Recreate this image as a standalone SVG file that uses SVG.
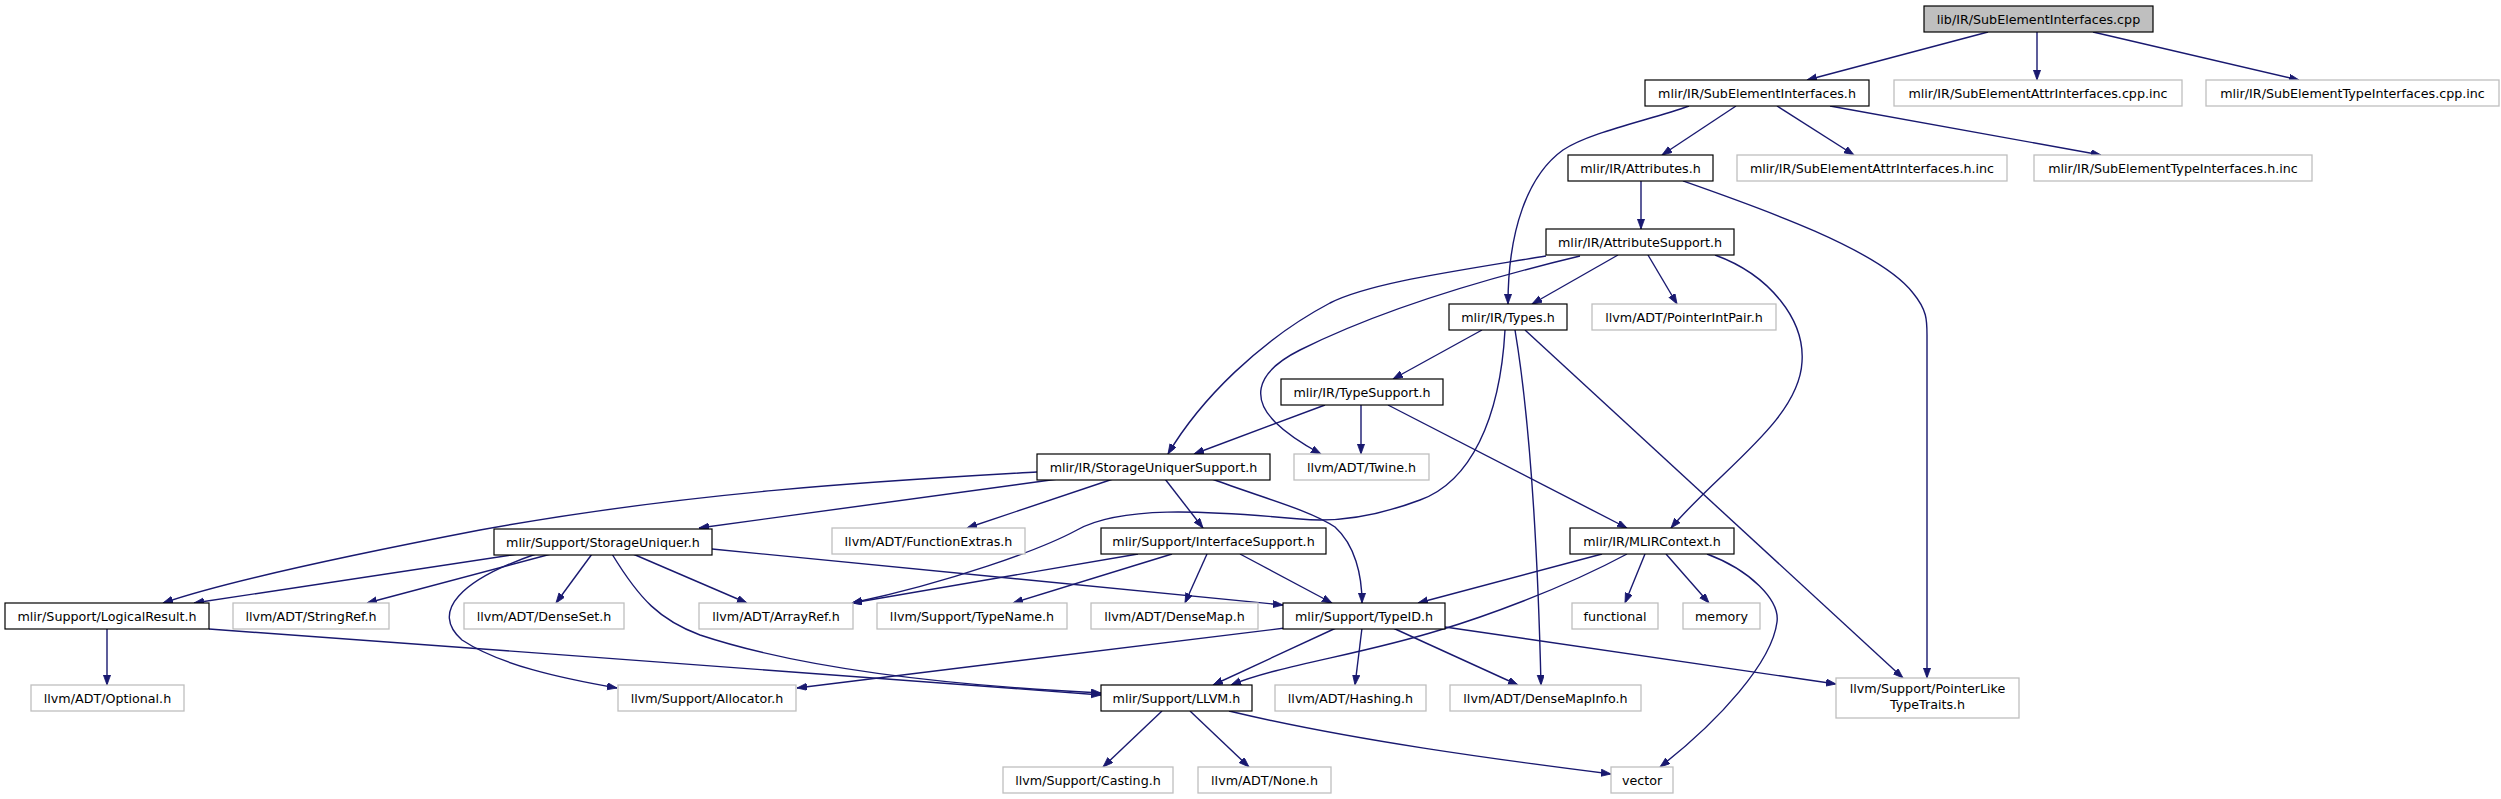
<svg xmlns="http://www.w3.org/2000/svg" width="2501" height="799" viewBox="0 0 2501 799">
<style>
.n rect{fill:#fff;stroke:#000;stroke-width:1.2}
.g rect{fill:#fff;stroke:#bfbfbf;stroke-width:1.3}
.top rect{fill:#bfbfbf;stroke:#000;stroke-width:1.2}
text{font-family:"DejaVu Sans","Liberation Sans",sans-serif;font-size:12.7px;fill:#000;text-anchor:middle}
#edges path{fill:none;stroke:#191970;stroke-width:1.4;marker-end:url(#ah)}
</style>
<defs>
<marker id="ah" markerUnits="userSpaceOnUse" markerWidth="11" markerHeight="8" refX="10" refY="3.6" orient="auto">
<path d="M0,0 L10,3.6 L0,7.2 z" fill="#191970" stroke="#191970" stroke-width="0.8"/>
</marker>
</defs>
<rect width="2501" height="799" fill="#fff"/>
<g id="edges">
<path d="M1988,32 L1807,80"/>
<path d="M2037,32 L2037,80"/>
<path d="M2093,32 L2299,80"/>
<path d="M1736,106 L1662,155"/>
<path d="M1777,106 L1854,155"/>
<path d="M1830,106 L2101,155"/>
<path d="M1689,106 C1650,120 1590,132 1563,150 C1528,175 1508,230 1508,304"/>
<path d="M1641,181 L1641,229"/>
<path d="M1683,181 C1760,208 1880,250 1913,293 C1927,310 1927,320 1927,335 L1927,678"/>
<path d="M1618,255 L1532,304"/>
<path d="M1648,255 L1677,304"/>
<path d="M1715,255 C1770,275 1805,320 1802,362 C1799,420 1720,470 1671,528"/>
<path d="M1546,256 C1450,272 1370,283 1330,303 C1260,340 1200,400 1168,454"/>
<path d="M1580,256 C1480,280 1380,310 1300,350 C1250,375 1255,402 1275,422 C1290,437 1308,447 1321,454"/>
<path d="M1482,330 L1393,379"/>
<path d="M1505,330 C1500,420 1470,482 1420,500 C1380,515 1340,523 1300,519 C1200,510 1120,506 1077,530 C1040,550 950,582 852,603"/>
<path d="M1515,330 C1530,420 1538,560 1541,685"/>
<path d="M1525,330 L1903,678"/>
<path d="M1325,405 L1194,454"/>
<path d="M1361,405 L1361,454"/>
<path d="M1388,405 L1627,528"/>
<path d="M1037,472 C900,480 700,490 480,530 C350,555 230,580 163,603"/>
<path d="M1058,479 L699,528"/>
<path d="M1113,479 L967,528"/>
<path d="M1165,479 L1203,528"/>
<path d="M1212,479 C1260,497 1310,510 1335,527 C1355,545 1362,575 1362,603"/>
<path d="M518,554 L194,603"/>
<path d="M551,554 L367,603"/>
<path d="M592,554 L556,603"/>
<path d="M633,554 L747,603"/>
<path d="M712,549 L1283,605"/>
<path d="M536,554 C460,580 430,612 462,640 C500,665 560,678 617,688"/>
<path d="M612,554 C640,600 660,620 700,635 C820,675 1000,688 1101,693"/>
<path d="M1138,554 L852,603"/>
<path d="M1172,554 L1013,603"/>
<path d="M1207,554 L1185,603"/>
<path d="M1240,554 L1332,603"/>
<path d="M1602,554 L1418,603"/>
<path d="M1645,554 L1625,603"/>
<path d="M1666,554 L1709,603"/>
<path d="M1627,554 C1560,590 1480,618 1440,630 C1360,655 1280,665 1231,685"/>
<path d="M1707,554 C1750,570 1780,600 1777,622 C1772,662 1720,720 1660,767"/>
<path d="M107,629 L107,685"/>
<path d="M209,629 C500,650 900,680 1101,695"/>
<path d="M1285,628 L797,688"/>
<path d="M1336,628 L1213,685"/>
<path d="M1362,628 L1355,685"/>
<path d="M1393,628 L1518,685"/>
<path d="M1445,627 L1836,684"/>
<path d="M1162,711 L1103,767"/>
<path d="M1190,711 L1249,767"/>
<path d="M1229,711 C1350,740 1500,760 1611,774"/>
</g>
<g id="n1" class="top"><rect x="1924" y="6" width="229" height="26"/><text x="2038.5" y="23.5">lib/IR/SubElementInterfaces.cpp</text></g>
<g id="n2" class="n"><rect x="1645" y="80" width="224" height="26"/><text x="1757" y="97.5">mlir/IR/SubElementInterfaces.h</text></g>
<g id="n3" class="g"><rect x="1894" y="80" width="288" height="26"/><text x="2038" y="97.5">mlir/IR/SubElementAttrInterfaces.cpp.inc</text></g>
<g id="n4" class="g"><rect x="2206" y="80" width="293" height="26"/><text x="2352.5" y="97.5">mlir/IR/SubElementTypeInterfaces.cpp.inc</text></g>
<g id="n5" class="n"><rect x="1568" y="155" width="145" height="26"/><text x="1640.5" y="172.5">mlir/IR/Attributes.h</text></g>
<g id="n6" class="g"><rect x="1737" y="155" width="270" height="26"/><text x="1872" y="172.5">mlir/IR/SubElementAttrInterfaces.h.inc</text></g>
<g id="n7" class="g"><rect x="2034" y="155" width="278" height="26"/><text x="2173" y="172.5">mlir/IR/SubElementTypeInterfaces.h.inc</text></g>
<g id="n8" class="n"><rect x="1546" y="229" width="188" height="26"/><text x="1640" y="246.5">mlir/IR/AttributeSupport.h</text></g>
<g id="n9" class="n"><rect x="1449" y="304" width="118" height="26"/><text x="1508" y="321.5">mlir/IR/Types.h</text></g>
<g id="n10" class="g"><rect x="1592" y="304" width="184" height="26"/><text x="1684" y="321.5">llvm/ADT/PointerIntPair.h</text></g>
<g id="n11" class="n"><rect x="1281" y="379" width="162" height="26"/><text x="1362" y="396.5">mlir/IR/TypeSupport.h</text></g>
<g id="n12" class="n"><rect x="1037" y="454" width="233" height="26"/><text x="1153.5" y="471.5">mlir/IR/StorageUniquerSupport.h</text></g>
<g id="n13" class="g"><rect x="1294" y="454" width="135" height="26"/><text x="1361.5" y="471.5">llvm/ADT/Twine.h</text></g>
<g id="n14" class="n"><rect x="494" y="529" width="218" height="26"/><text x="603" y="546.5">mlir/Support/StorageUniquer.h</text></g>
<g id="n15" class="g"><rect x="832" y="528" width="193" height="26"/><text x="928.5" y="545.5">llvm/ADT/FunctionExtras.h</text></g>
<g id="n16" class="n"><rect x="1101" y="528" width="225" height="26"/><text x="1213.5" y="545.5">mlir/Support/InterfaceSupport.h</text></g>
<g id="n17" class="n"><rect x="1570" y="528" width="164" height="26"/><text x="1652" y="545.5">mlir/IR/MLIRContext.h</text></g>
<g id="n18" class="n"><rect x="5" y="603" width="204" height="26"/><text x="107" y="620.5">mlir/Support/LogicalResult.h</text></g>
<g id="n19" class="g"><rect x="233" y="603" width="156" height="26"/><text x="311" y="620.5">llvm/ADT/StringRef.h</text></g>
<g id="n20" class="g"><rect x="464" y="603" width="160" height="26"/><text x="544" y="620.5">llvm/ADT/DenseSet.h</text></g>
<g id="n21" class="g"><rect x="699" y="603" width="154" height="26"/><text x="776" y="620.5">llvm/ADT/ArrayRef.h</text></g>
<g id="n22" class="g"><rect x="877" y="603" width="190" height="26"/><text x="972" y="620.5">llvm/Support/TypeName.h</text></g>
<g id="n23" class="g"><rect x="1091" y="603" width="167" height="26"/><text x="1174.5" y="620.5">llvm/ADT/DenseMap.h</text></g>
<g id="n24" class="n"><rect x="1283" y="603" width="162" height="26"/><text x="1364" y="620.5">mlir/Support/TypeID.h</text></g>
<g id="n25" class="g"><rect x="1572" y="603" width="86" height="26"/><text x="1615" y="620.5">functional</text></g>
<g id="n26" class="g"><rect x="1683" y="603" width="77" height="26"/><text x="1721.5" y="620.5">memory</text></g>
<g id="n27" class="g"><rect x="31" y="685" width="153" height="26"/><text x="107.5" y="702.5">llvm/ADT/Optional.h</text></g>
<g id="n28" class="g"><rect x="618" y="685" width="178" height="26"/><text x="707" y="702.5">llvm/Support/Allocator.h</text></g>
<g id="n29" class="n"><rect x="1101" y="685" width="151" height="26"/><text x="1176.5" y="702.5">mlir/Support/LLVM.h</text></g>
<g id="n30" class="g"><rect x="1275" y="685" width="151" height="26"/><text x="1350.5" y="702.5">llvm/ADT/Hashing.h</text></g>
<g id="n31" class="g"><rect x="1450" y="685" width="191" height="26"/><text x="1545.5" y="702.5">llvm/ADT/DenseMapInfo.h</text></g>
<g id="n32" class="g"><rect x="1836" y="678" width="183" height="40"/><text x="1927.5" y="693">llvm/Support/PointerLike</text><text x="1927.5" y="709">TypeTraits.h</text></g>
<g id="n33" class="g"><rect x="1003" y="767" width="170" height="26"/><text x="1088" y="784.5">llvm/Support/Casting.h</text></g>
<g id="n34" class="g"><rect x="1198" y="767" width="133" height="26"/><text x="1264.5" y="784.5">llvm/ADT/None.h</text></g>
<g id="n35" class="g"><rect x="1611" y="767" width="62" height="26"/><text x="1642" y="784.5">vector</text></g>
</svg>
